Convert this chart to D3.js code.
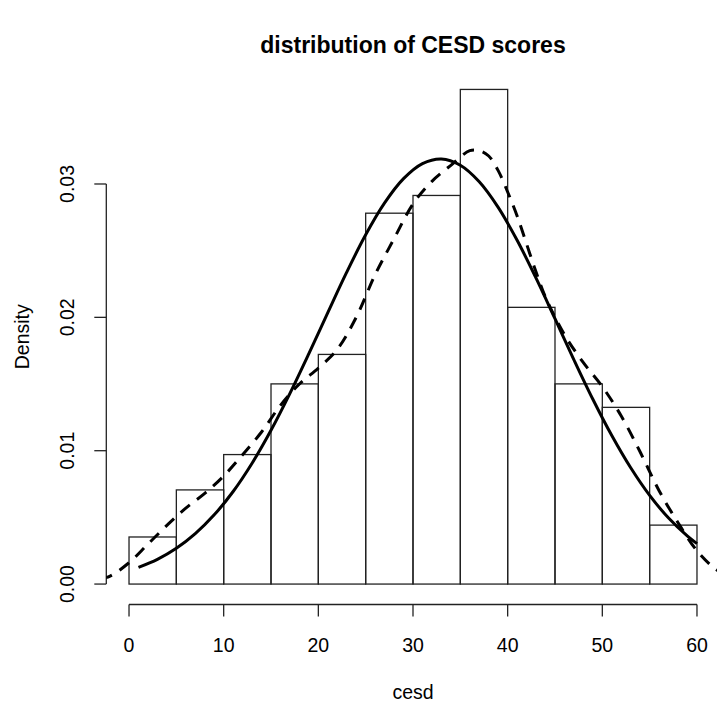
<!DOCTYPE html>
<html>
<head>
<meta charset="utf-8">
<script src="https://cdn.jsdelivr.net/npm/d3@7"></script>
<style>
  body { margin: 0; background: #fff; }
  text { font-family: "Liberation Sans", Arial, sans-serif; fill: #000; }
</style>
</head>
<body>
<svg id="chart" width="717" height="707"></svg>
<script>
// histogram bins of cesd (density scale)
var binStarts = [0, 5, 10, 15, 20, 25, 30, 35, 40, 45, 50, 55];
var binWidth = 5;
var binDensity = [0.00353, 0.00706, 0.00971, 0.01501, 0.01722, 0.02781,
                  0.02914, 0.03709, 0.02075, 0.01501, 0.01325, 0.00442];

// solid curve: normal density, read at these x positions
var normX = [1, 3, 5, 7, 9, 11, 13, 15, 17, 19, 21, 23, 25, 27, 29, 31, 33,
             35, 37, 39, 41, 43, 45, 47, 49, 51, 53, 55, 57, 59, 60];
var normY = [0.00125, 0.00185, 0.00268, 0.00378, 0.00519, 0.00694, 0.00906,
             0.01153, 0.0143, 0.01728, 0.02036, 0.02339, 0.02619, 0.02858,
             0.0304, 0.03153, 0.03188, 0.03141, 0.03017, 0.02825, 0.02578,
             0.02294, 0.0199, 0.01682, 0.01386, 0.01114, 0.00872, 0.00665,
             0.00495, 0.00359, 0.00303];

// dashed curve: kernel density estimate
var kdeX = [-3, -2, 0, 2, 4, 6, 8, 10, 12, 14, 16, 18, 20, 22, 24, 26, 28, 30,
            32, 34, 36, 37, 38, 39, 40, 41, 42, 43, 44, 46, 48, 50, 52, 54,
            56, 58, 60, 62, 63];
var kdeY = [0.0004, 0.0006, 0.0016, 0.0030, 0.0044, 0.0057, 0.0068, 0.0081,
            0.0097, 0.0114, 0.0134, 0.0150, 0.0162, 0.0176, 0.0200, 0.0232,
            0.0259, 0.0285, 0.0302, 0.0314, 0.0325, 0.0325, 0.0321, 0.0310,
            0.0294, 0.0276, 0.0255, 0.0234, 0.0215, 0.0187, 0.0166, 0.0148,
            0.0126, 0.0099, 0.0070, 0.0046, 0.0025, 0.0011, 0.0007];

var xTicks = [0, 10, 20, 30, 40, 50, 60];
var yTicks = [0, 0.01, 0.02, 0.03];

var svg = d3.select("#chart");

// plot region (R style 4% padding)
var plotL = 106.3, plotR = 719.7, plotT = 69.7, plotB = 603.8;
var x = d3.scaleLinear().domain([-2.4, 62.4]).range([plotL, plotR]);
var y = d3.scaleLinear().domain([-0.00148, 0.03857]).range([plotB, plotT]);
var midX = (plotL + plotR) / 2, midY = (plotT + plotB) / 2;

svg.append("defs").append("clipPath").attr("id", "plotClip")
  .append("rect")
  .attr("x", plotL).attr("y", plotT)
  .attr("width", plotR - plotL).attr("height", plotB - plotT);

// title
svg.append("text")
  .attr("x", midX).attr("y", 53)
  .attr("text-anchor", "middle")
  .style("font-size", "23px")
  .style("font-weight", "bold")
  .text("distribution of CESD scores");

// bars
svg.append("g")
  .selectAll("rect")
  .data(binStarts)
  .enter()
  .append("rect")
  .attr("x", function (d) { return x(d); })
  .attr("width", function (d) { return x(d + binWidth) - x(d); })
  .attr("y", function (d, i) { return y(binDensity[i]); })
  .attr("height", function (d, i) { return y(0) - y(binDensity[i]); })
  .style("fill", "none")
  .style("stroke", "#222")
  .style("stroke-width", 1.3);

// x axis
var xAxis = svg.append("g").attr("transform", "translate(0,604.5)");
xAxis.append("line")
  .attr("x1", x(0)).attr("x2", x(60))
  .style("stroke", "#222").style("stroke-width", 1.3);
xAxis.selectAll(".xtick")
  .data(xTicks)
  .enter()
  .append("line")
  .attr("x1", function (d) { return x(d); })
  .attr("x2", function (d) { return x(d); })
  .attr("y1", 0).attr("y2", 12)
  .style("stroke", "#222").style("stroke-width", 1.3);
xAxis.selectAll(".xlab")
  .data(xTicks)
  .enter()
  .append("text")
  .attr("x", function (d) { return x(d); })
  .attr("y", 47.5)
  .attr("text-anchor", "middle")
  .style("font-size", "19.5px")
  .text(function (d) { return d; });

svg.append("text")
  .attr("x", midX).attr("y", 699)
  .attr("text-anchor", "middle")
  .style("font-size", "19.5px")
  .text("cesd");

// y axis
var yAxis = svg.append("g").attr("transform", "translate(" + plotL + ",0)");
yAxis.append("line")
  .attr("y1", y(0)).attr("y2", y(0.03))
  .style("stroke", "#222").style("stroke-width", 1.3);
yAxis.selectAll(".ytick")
  .data(yTicks)
  .enter()
  .append("line")
  .attr("y1", function (d) { return y(d); })
  .attr("y2", function (d) { return y(d); })
  .attr("x1", 0).attr("x2", -12)
  .style("stroke", "#222").style("stroke-width", 1.3);
yAxis.selectAll(".ylab")
  .data(yTicks)
  .enter()
  .append("text")
  .attr("transform", function (d) {
    return "translate(-32," + y(d) + ") rotate(-90)";
  })
  .attr("text-anchor", "middle")
  .style("font-size", "19.5px")
  .text(function (d) { return d3.format(".2f")(d); });

svg.append("text")
  .attr("transform", "translate(29," + midY + ") rotate(-90)")
  .attr("text-anchor", "middle")
  .style("font-size", "19.5px")
  .text("Density");

// curves
var line = d3.line()
  .x(function (d) { return x(d[0]); })
  .y(function (d) { return y(d[1]); })
  .curve(d3.curveCatmullRom);

var plotArea = svg.append("g").attr("clip-path", "url(#plotClip)");

plotArea.append("path")
  .datum(d3.zip(normX, normY))
  .attr("d", line)
  .style("fill", "none")
  .style("stroke", "#000")
  .style("stroke-width", 3);

plotArea.append("path")
  .datum(d3.zip(kdeX, kdeY))
  .attr("d", line)
  .style("fill", "none")
  .style("stroke", "#000")
  .style("stroke-width", 3)
  .style("stroke-dasharray", "12,9");
</script>
</body>
</html>
